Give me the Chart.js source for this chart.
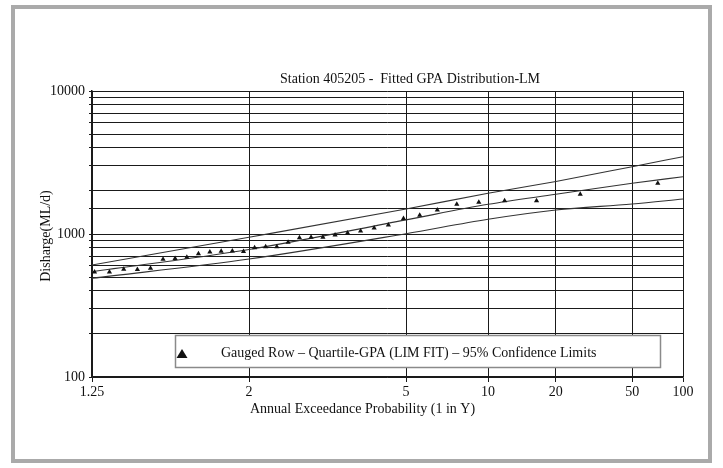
<!DOCTYPE html>
<html>
<head>
<meta charset="utf-8">
<script src="https://cdn.jsdelivr.net/npm/chart.js@4.4.1/dist/chart.umd.min.js"></script>
<style>
html,body{margin:0;padding:0;background:#fff;}
#wrap{position:relative;width:723px;height:468px;}
canvas{display:block;}
</style>
</head>
<body>
<div id="wrap"><canvas id="c" width="723" height="468"></canvas></div>
<script>
// ---- data ----
const xTickValues = [1.25, 2, 5, 10, 20, 50, 100];          // return periods (1 in Y)
const xTickLabels = ["1.25", "2", "5", "10", "20", "50", "100"];
const yTickLabels = {100: "100", 1000: "1000", 10000: "10000"};

// gauged annual series: return period (1 in Y) and discharge (ML/d)
const gaugedRP = [70.33, 26.38, 16.23, 11.72, 9.174, 7.536, 6.394, 5.553, 4.907, 4.396,
                  3.981, 3.638, 3.349, 3.103, 2.890, 2.705, 2.542, 2.398, 2.269, 2.153,
                  2.049, 1.954, 1.867, 1.788, 1.715, 1.648, 1.586, 1.529, 1.476, 1.426,
                  1.379, 1.335, 1.294, 1.256];
const gaugedFlow = [2262, 1895, 1710, 1710, 1666, 1616, 1472, 1351, 1284, 1156,
                    1102, 1050, 1016, 984, 948, 948, 941, 875, 815, 815,
                    802, 755, 760, 757, 749, 728, 687, 674, 666, 576,
                    565, 566, 542, 542];

// fitted GPA quantiles and 95% confidence limits
const fitRP    = [1.25, 2, 5, 10, 20, 50, 100];
const fitFlow  = [545, 780, 1255, 1613, 1895, 2262, 2516];
const upperCL  = [607, 948, 1495, 1925, 2330, 2955, 3470];
const lowerCL  = [490, 668, 1005, 1268, 1472, 1621, 1757];

const titleText = "Station 405205 -  Fitted GPA Distribution-LM";
const xTitle = "Annual Exceedance Probability (1 in Y)";
const yTitle = "Disharge(ML/d)";
const legendText = "Gauged Row \u2013 Quartile-GPA (LIM FIT) \u2013 95% Confidence Limits";

// ---- normal probability transform for the x axis ----
function normInv(p){
  const a=[-3.969683028665376e+01,2.209460984245205e+02,-2.759285104469687e+02,1.383577518672690e+02,-3.066479806614716e+01,2.506628277459239e+00];
  const b=[-5.447609879822406e+01,1.615858368580409e+02,-1.556989798598866e+02,6.680131188771972e+01,-1.328068155288572e+01];
  const c=[-7.784894002430293e-03,-3.223964580411365e-01,-2.400758277161838e+00,-2.549732539343734e+00,4.374664141464968e+00,2.938163982698783e+00];
  const d=[7.784695709041462e-03,3.224671290700398e-01,2.445134137142996e+00,3.754408661907416e+00];
  const pl=0.02425, ph=1-pl; let q,r;
  if(p<pl){q=Math.sqrt(-2*Math.log(p));return (((((c[0]*q+c[1])*q+c[2])*q+c[3])*q+c[4])*q+c[5])/((((d[0]*q+d[1])*q+d[2])*q+d[3])*q+1);}
  if(p<=ph){q=p-0.5;r=q*q;return (((((a[0]*r+a[1])*r+a[2])*r+a[3])*r+a[4])*r+a[5])*q/(((((b[0]*r+b[1])*r+b[2])*r+b[3])*r+b[4])*r+1);}
  q=Math.sqrt(-2*Math.log(1-p));return -(((((c[0]*q+c[1])*q+c[2])*q+c[3])*q+c[4])*q+c[5])/((((d[0]*q+d[1])*q+d[2])*q+d[3])*q+1);
}
const rpToZ = y => normInv(1 - 1/y);
const pts = (xs, ys) => xs.map((x,i)=>({x: rpToZ(x), y: ys[i]}));

const SERIF = "'Liberation Serif', 'Times New Roman', serif";

const decor = {
  id: 'decor',
  beforeDraw(chart){
    const ctx = chart.ctx;
    ctx.save();
    ctx.fillStyle = '#fff';
    ctx.fillRect(0,0,chart.width,chart.height);
    ctx.strokeStyle = '#aaaaaa';
    ctx.lineWidth = 4;
    ctx.strokeRect(13, 7, 697, 454);
    ctx.restore();
  },
  afterDraw(chart){
    const ctx = chart.ctx;
    ctx.save();
    ctx.fillStyle = '#111';
    ctx.font = '14px ' + SERIF;
    ctx.textBaseline = 'middle';
    ctx.textAlign = 'left';
    ctx.fillText(titleText, 280, 79);
    ctx.fillText(xTitle, 250, 409);
    ctx.save();
    ctx.translate(46, 236);
    ctx.rotate(-Math.PI/2);
    ctx.textAlign = 'center';
    ctx.fillText(yTitle, 0, 0);
    ctx.restore();
    // legend box
    ctx.fillStyle = '#fff';
    ctx.fillRect(175, 335, 485, 32);
    ctx.strokeStyle = '#8a8a8a';
    ctx.lineWidth = 1.5;
    ctx.strokeRect(175.5, 335.5, 485, 32);
    ctx.fillStyle = '#111';
    ctx.beginPath();
    ctx.moveTo(182, 349);
    ctx.lineTo(187.5, 358);
    ctx.lineTo(176.5, 358);
    ctx.closePath();
    ctx.fill();
    ctx.textAlign = 'left';
    ctx.fillText(legendText, 221, 353);
    ctx.restore();
  }
};

new Chart(document.getElementById('c'), {
  type: 'scatter',
  data: {
    datasets: [
      {label: 'Gauged Row', data: pts(gaugedRP, gaugedFlow), showLine: false,
       pointStyle: 'triangle', pointRadius: 3, backgroundColor: '#111', borderColor: '#111', borderWidth: 0},
      {label: 'Quartile-GPA (LIM FIT)', data: pts(fitRP, fitFlow), showLine: true, pointRadius: 0,
       borderColor: '#333', borderWidth: 1.1, cubicInterpolationMode: 'monotone'},
      {label: 'Upper 95% Confidence Limit', data: pts(fitRP, upperCL), showLine: true, pointRadius: 0,
       borderColor: '#333', borderWidth: 1.1, cubicInterpolationMode: 'monotone'},
      {label: 'Lower 95% Confidence Limit', data: pts(fitRP, lowerCL), showLine: true, pointRadius: 0,
       borderColor: '#333', borderWidth: 1.1, cubicInterpolationMode: 'monotone'}
    ]
  },
  options: {
    responsive: false,
    animation: false,
    events: [],
    layout: {padding: {left: 0, right: 40, top: 91, bottom: 0}},
    plugins: {legend: {display: false}, tooltip: {enabled: false}, title: {display: false}},
    scales: {
      x: {
        type: 'linear',
        min: rpToZ(xTickValues[0]),
        max: rpToZ(xTickValues[xTickValues.length-1]),
        afterBuildTicks: s => { s.ticks = xTickValues.map(v => ({value: rpToZ(v)})); },
        afterFit: s => { s.height = 91; },
        ticks: {
          autoSkip: false, maxRotation: 0, padding: 2,
          color: '#111', font: {family: SERIF, size: 14},
          callback: (v, i) => xTickLabels[i]
        },
        grid: {color: '#1a1a1a', lineWidth: 1, tickLength: 5, drawTicks: true},
        border: {color: '#1a1a1a', width: 1.5}
      },
      y: {
        type: 'logarithmic',
        min: 100, max: 10000,
        afterFit: s => { s.width = 92; },
        ticks: {
          autoSkip: false, padding: 4,
          color: '#111', font: {family: SERIF, size: 14},
          callback: v => yTickLabels[v] || ''
        },
        grid: {color: '#1a1a1a', lineWidth: 1, tickLength: 3, drawTicks: true},
        border: {color: '#1a1a1a', width: 1.5}
      }
    }
  },
  plugins: [decor]
});
</script>
</body>
</html>
